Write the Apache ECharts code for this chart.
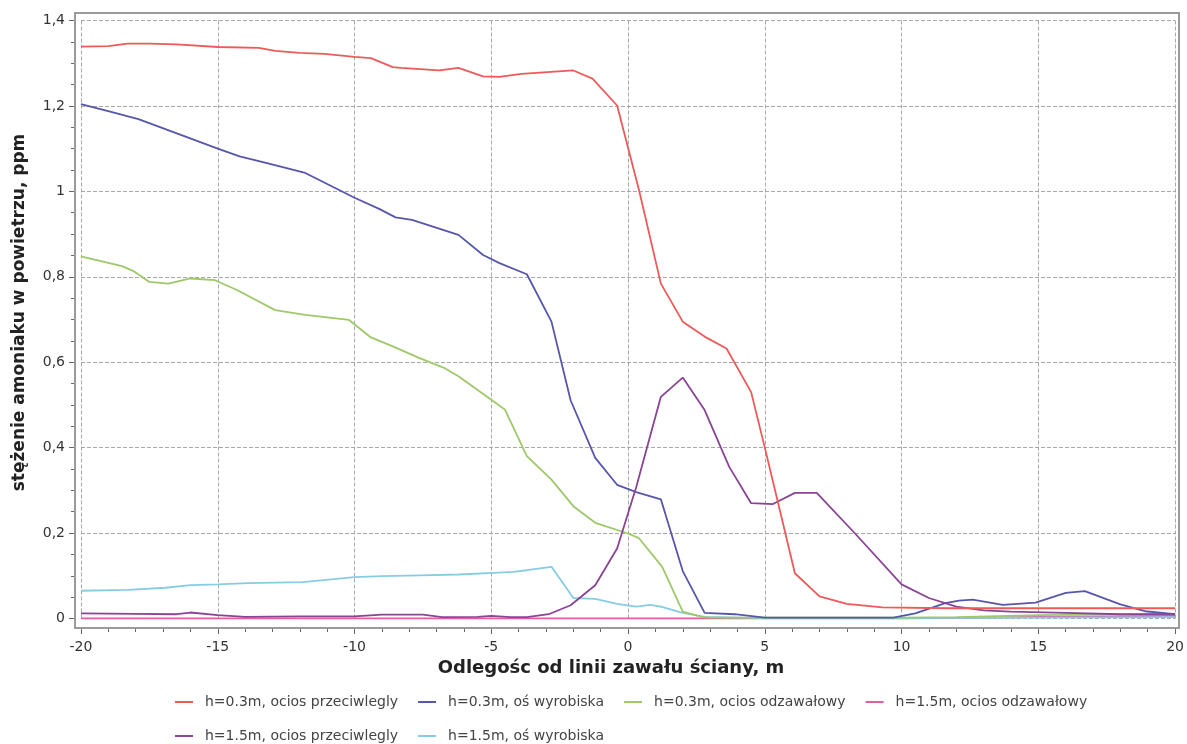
<!DOCTYPE html>
<html>
<head>
<meta charset="utf-8">
<script src="https://cdn.jsdelivr.net/npm/echarts@6/dist/echarts.min.js"></script>
<style>
html,body{margin:0;padding:0;background:#fff;}
#c{width:1187px;height:744px;}
</style>
</head>
<body>
<div id="c"></div>
<script>
// ---- data ----
const seriesNames = [
  'h=0.3m, ocios przeciwlegly',
  'h=0.3m, oś wyrobiska',
  'h=0.3m, ocios odzawałowy',
  'h=1.5m, ocios odzawałowy',
  'h=1.5m, ocios przeciwlegly',
  'h=1.5m, oś wyrobiska'
];
const xTitle = 'Odlegośc od linii zawału ściany, m';
const yTitle = 'stężenie amoniaku w powietrzu, ppm';

// h=0.3m, ocios przeciwległy
const x03Przec = [-20,-19,-18.3,-17.5,-16.5,-15,-13.5,-12.9,-12,-11.1,-10,-9.4,-8.6,-8.3,-6.9,-6.2,-5.3,-4.7,-3.9,-2.0,-1.3,-0.4,0.4,1.2,2.0,2.8,3.6,4.5,5.0,5.6,6.1,7.0,8.0,9.3,11.7,15,20];
const y03Przec = [1.339,1.340,1.346,1.346,1.344,1.338,1.336,1.329,1.324,1.322,1.315,1.312,1.291,1.289,1.283,1.289,1.269,1.268,1.275,1.283,1.264,1.201,1.003,0.784,0.695,0.660,0.632,0.530,0.400,0.240,0.106,0.052,0.034,0.026,0.024,0.024,0.024];

// h=0.3m, oś wyrobiska
const x03Os = [-20,-18.9,-17.9,-16.3,-15,-14.2,-13.2,-11.8,-10,-9.1,-8.5,-7.9,-6.2,-5.3,-4.7,-3.7,-2.8,-2.1,-1.2,-0.4,0.3,1.2,2.0,2.8,3.9,5.0,9.7,10.5,11.6,12.1,12.6,13.7,14.9,16.0,16.7,18.0,18.9,20];
const y03Os = [1.204,1.186,1.169,1.131,1.100,1.082,1.066,1.043,0.985,0.959,0.939,0.933,0.898,0.851,0.832,0.806,0.695,0.511,0.376,0.313,0.296,0.279,0.111,0.013,0.010,0.002,0.002,0.012,0.036,0.042,0.044,0.032,0.037,0.060,0.064,0.033,0.017,0.010];

// h=0.3m, ocios odzawałowy
const x03Odz = [-20,-18.5,-18.1,-17.5,-16.8,-16,-15.1,-14.3,-12.9,-11.8,-10.2,-9.4,-8.6,-7.6,-6.7,-6.2,-5,-4.5,-3.7,-2.8,-2.0,-1.2,0,0.4,1.25,2.0,2.7,3,10,12,15,20];
const y03Odz = [0.848,0.825,0.814,0.788,0.784,0.796,0.792,0.769,0.722,0.711,0.699,0.658,0.637,0.609,0.586,0.567,0.512,0.489,0.380,0.325,0.263,0.224,0.199,0.188,0.121,0.016,0.004,0.002,0.002,0.003,0.008,0.011];

// h=1.5m, ocios odzawałowy
const x15Odz = [-20,-10,0,2.7,10,13,15,20];
const y15Odz = [0,0,0,0,0,0.002,0.004,0.006];

// h=1.5m, ocios przeciwległy
const x15Przec = [-20,-18,-16.5,-16,-15,-14,-12,-10,-9,-7.5,-6.8,-5.5,-5,-4.3,-3.7,-2.9,-2.1,-1.2,-0.4,0.3,1.2,2.0,2.8,3.7,4.5,5.3,6.1,6.9,8.3,10,11,12,13,14,16,18,20];
const y15Przec = [0.012,0.011,0.010,0.014,0.008,0.004,0.005,0.005,0.009,0.009,0.003,0.004,0.006,0.003,0.003,0.010,0.031,0.078,0.164,0.308,0.519,0.564,0.488,0.355,0.270,0.268,0.294,0.294,0.199,0.080,0.048,0.028,0.019,0.016,0.013,0.010,0.010];

// h=1.5m, oś wyrobiska
const x15Os = [-20,-18.3,-16.9,-16,-15,-13.9,-11.9,-10,-9,-7.6,-6.2,-4.9,-4.2,-3.7,-2.8,-2.0,-1.2,-0.4,0.3,0.8,1.2,2.0,2.8,5,10,15,20];
const y15Os = [0.065,0.067,0.072,0.078,0.080,0.083,0.085,0.097,0.099,0.101,0.103,0.107,0.109,0.113,0.121,0.048,0.046,0.034,0.028,0.032,0.028,0.013,0.004,0.001,0.001,0.002,0.003];

const seriesX = [x03Przec, x03Os, x03Odz, x15Odz, x15Przec, x15Os];
const seriesY = [y03Przec, y03Os, y03Odz, y15Odz, y15Przec, y15Os];
const seriesColors = ['#ee5a5a', '#5656aa', '#9ec86a', '#e0609e', '#8a4494', '#86cce2'];
const drawOrder = [3, 5, 2, 1, 4, 0];

const zip = (xs, ys) => xs.map((x, i) => [x, ys[i]]);
const FONT = 'DejaVu Sans';

const series = drawOrder.map(i => ({
  name: seriesNames[i],
  type: 'line',
  xAxisIndex: 0, yAxisIndex: 0,
  data: zip(seriesX[i], seriesY[i]),
  symbol: 'none',
  smooth: false,
  lineStyle: { width: 1.8, color: seriesColors[i] },
  itemStyle: { color: seriesColors[i] },
  z: 3
}));

const chart = echarts.init(document.getElementById('c'), null, { renderer: 'canvas' });
chart.setOption({
  animation: false,
  backgroundColor: '#fff',
  grid: [
    { left: 81, right: 10, top: 20.5, bottom: 125.5, show: false },
    { left: 75, right: 8, top: 13, bottom: 116, show: true, borderColor: '#9a9a9a', borderWidth: 2, backgroundColor: 'transparent', z: 1 }
  ],
  legend: {
    data: seriesNames,
    left: 170, top: 690, width: 960,
    icon: 'rect',
    itemWidth: 18, itemHeight: 2, itemGap: 20,
    textStyle: { fontFamily: FONT, fontSize: 14, lineHeight: 14, color: '#444', padding: [0, 0, 0, 7] }
  },
  xAxis: [
    {
      type: 'value', gridIndex: 0, min: -20, max: 20, interval: 5,
      offset: 9.5,
      name: xTitle, nameLocation: 'middle', nameGap: 30,
      nameTextStyle: { fontFamily: FONT, fontWeight: 'bold', fontSize: 18, color: '#222', padding: [0, 34, 0, 0] },
      axisLine: { show: true, onZero: false, lineStyle: { color: '#8a8a8a', width: 2 } },
      axisTick: { show: true, length: 6, lineStyle: { color: '#666' } },
      minorTick: { show: true, splitNumber: 5, length: 4, lineStyle: { color: '#666' } },
      axisLabel: { fontFamily: FONT, fontSize: 14, color: '#333', margin: 12 },
      splitLine: { show: true, lineStyle: { color: '#a8a8a8', width: 1, type: [4, 2] } }
    },
    { type: 'value', gridIndex: 1, min: 0, max: 1, show: false }
  ],
  yAxis: [
    {
      type: 'value', gridIndex: 0, min: 0, max: 1.4, interval: 0.2,
      offset: 6,
      name: yTitle, nameLocation: 'middle', nameGap: 47, nameRotate: 90,
      nameTextStyle: { fontFamily: FONT, fontWeight: 'bold', fontSize: 17, color: '#222', padding: [0, 0, 0, 14] },
      axisLine: { show: true, onZero: false, lineStyle: { color: '#8a8a8a', width: 2 } },
      axisTick: { show: true, length: 6, lineStyle: { color: '#666' } },
      minorTick: { show: true, splitNumber: 4, length: 4, lineStyle: { color: '#666' } },
      axisLabel: {
        fontFamily: FONT, fontSize: 14, color: '#333', margin: 10,
        formatter: v => String(Math.round(v * 10) / 10).replace('.', ',')
      },
      splitLine: { show: true, lineStyle: { color: '#a8a8a8', width: 1, type: [4, 2] } }
    },
    { type: 'value', gridIndex: 1, min: 0, max: 1, show: false }
  ],
  series: series
});
</script>
</body>
</html>
